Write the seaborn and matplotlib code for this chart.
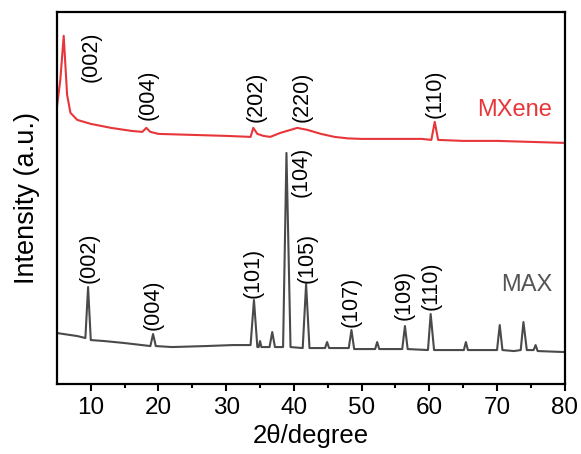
import numpy as np
import pandas as pd
import matplotlib
matplotlib.use("Agg")
import matplotlib.pyplot as plt
import seaborn as sns

# MXene pattern (2theta, intensity a.u.)
mxene_x = [5.0, 5.5, 6.0, 6.5, 7.0, 8.0, 10.0, 13.0, 16.0, 17.6, 18.2, 18.8, 20.0, 25.0, 30.0, 33.6,
           34.0, 34.6, 35.5, 36.5, 38.0, 40.5, 42.0, 44.0, 46.0, 48.0, 50.0, 55.0, 58.9, 60.3, 60.8,
           61.3, 65.0, 70.0, 75.0, 80.0]
mxene_y = [277, 304, 348, 289, 271, 264, 260, 256, 253, 252, 256, 252, 250, 249, 248, 247,
           256, 250, 248, 247, 251, 256, 254, 250, 247, 245.5, 245, 245, 245, 244, 262,
           244, 243, 243, 242, 241]

# MAX pattern
max_x = [5.0, 8.0, 9.2, 9.6, 10.0, 12.0, 15.0, 18.8, 19.2, 19.6, 22.0, 27.0, 31.0, 33.6, 34.1, 34.6,
         34.8, 35.0, 35.2, 36.4, 36.8, 37.2, 38.4, 38.9, 39.5, 41.3, 41.8, 42.3, 44.6, 44.9, 45.2,
         48.1, 48.5, 48.9, 52.0, 52.3, 52.6, 56.0, 56.4, 56.8, 59.8, 60.2, 60.7, 65.1, 65.4, 65.7,
         70.0, 70.4, 70.8, 72.5, 73.5, 73.9, 74.4, 75.4, 75.7, 76.0, 80.0]
max_y = [51, 48, 46, 97, 44, 43, 41, 38, 50, 38, 37, 38, 39, 39, 84, 37,
         37, 43, 37, 37, 52, 37, 37, 231, 37, 36, 100, 36, 36, 42, 36,
         36, 54, 35, 35, 42, 35, 35, 58, 35, 34, 70, 34, 34, 42, 34,
         34, 59, 34, 33, 34, 62, 34, 34, 39, 33, 32]

# peak labels
mxene_labels = ["(002)", "(004)", "(202)", "(220)", "(110)"]
mxene_label_x = [10.0, 18.4, 34.4, 41.2, 60.8]
mxene_label_y = [302, 264, 262, 262, 266]

max_labels = ["(002)", "(004)", "(101)", "(104)", "(105)", "(107)", "(109)", "(110)"]
max_label_x = [9.8, 19.2, 34.0, 41.1, 42.0, 48.5, 56.3, 60.2]
max_label_y = [101, 54, 86, 187, 101, 57, 64, 74]

series_names = ["MXene", "MAX"]

sns.set_style("ticks")
plt.rcParams['font.family'] = ['Liberation Sans', 'DejaVu Sans']
plt.rcParams['text.color'] = 'black'
plt.rcParams['axes.labelcolor'] = 'black'
plt.rcParams['xtick.color'] = 'black'
plt.rcParams['xtick.labelcolor'] = 'black'

df = pd.concat([
    pd.DataFrame({"x": mxene_x, "y": mxene_y, "s": series_names[0]}),
    pd.DataFrame({"x": max_x, "y": max_y, "s": series_names[1]}),
])

red = "#e8353a"
gray = "#4a4a4a"

fig = plt.figure(figsize=(5.81, 4.54), dpi=100)
ax = fig.add_axes([0.098, 0.154, 0.874, 0.820])
sns.lineplot(data=df, x="x", y="y", hue="s", palette={"MXene": red, "MAX": gray},
             linewidth=1.5, ax=ax, legend=False, sort=False, estimator=None)

ax.set_xlim(5, 80)
ax.set_ylim(0, 372)
ax.set_xticks([10, 20, 30, 40, 50, 60, 70, 80])
ax.set_xticks([15, 25, 35, 45, 55, 65, 75], minor=True)
ax.set_yticks([])
ax.tick_params(axis='x', which='major', length=5, width=1.5, labelsize=17.5, direction='out',
               color='black', labelcolor='black', pad=4)
ax.tick_params(axis='x', which='minor', length=3, width=1.5, direction='out', color='black')
for sp in ax.spines.values():
    sp.set_linewidth(1.6)
    sp.set_color('black')

ax.set_xlabel("2θ/degree", fontsize=18.5, labelpad=4, color='black')
ax.set_ylabel("Intensity (a.u.)", fontsize=19.5, labelpad=12, color='black')

for t, x, y in zip(mxene_labels, mxene_label_x, mxene_label_y):
    ax.text(x, y, t, rotation=90, ha='center', va='bottom', fontsize=15.5, color='black')
for t, x, y in zip(max_labels, max_label_x, max_label_y):
    ax.text(x, y, t, rotation=90, ha='center', va='bottom', fontsize=15.5, color='black')

ax.text(72.6, 274, series_names[0], ha='center', va='center', fontsize=17, color=red)
ax.text(74.4, 99, series_names[1], ha='center', va='center', fontsize=17, color='#555555')

fig.savefig("out.png", dpi=100)
